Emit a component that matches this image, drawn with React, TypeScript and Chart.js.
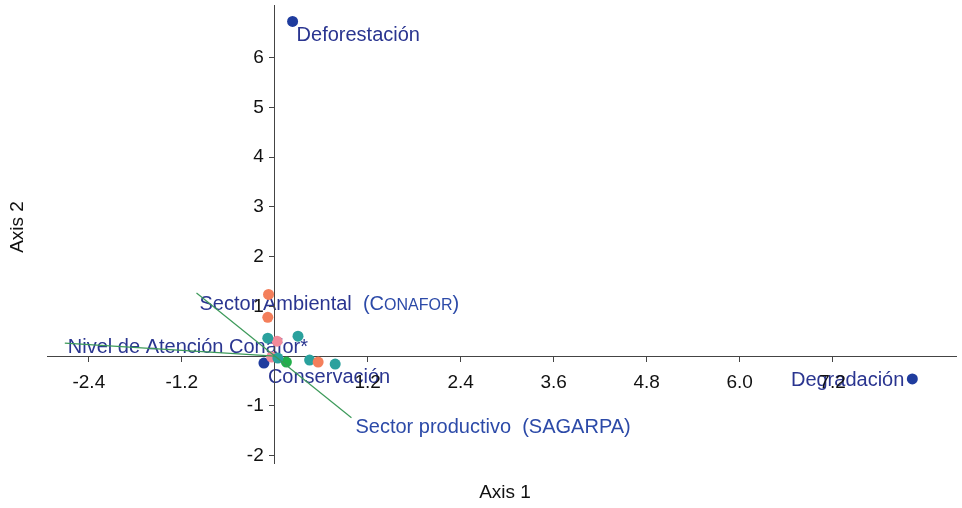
import React, { useEffect, useRef } from 'react';
import { Chart, registerables } from 'chart.js';

Chart.register(...registerables);

// Tick labels
const xTicks = [-2.4, -1.2, 1.2, 2.4, 3.6, 4.8, 6.0, 7.2];
const yTicks = [-2, -1, 1, 2, 3, 4, 5, 6];

// Labelled objects (dark blue)
const objNames = ['Deforestación', 'Degradación', 'Conservación'];
const objX = [0.23, 8.23, -0.14];
const objY = [6.73, -0.46, -0.14];

// Other point groups
const orangeX = [-0.08, -0.09, 0.56];
const orangeY = [1.24, 0.78, -0.12];
const tealX = [-0.09, 0.3, 0.45, 0.78, 0.04];
const tealY = [0.36, 0.4, -0.08, -0.16, -0.04];
const greenX = [0.15];
const greenY = [-0.12];
const pinkX = [0.03, -0.04];
const pinkY = [0.3, -0.02];

// Biplot vectors
const vecNames = ['Sector Ambiental', 'Sector productivo  (SAGARPA)', 'Nivel de Atención Conafor*'];
const vecX = [-1.01, 0.99, -2.71];
const vecY = [1.27, -1.24, 0.26];

const FONT = "'Liberation Sans', Arial, sans-serif";
const NAVY = '#2a3590';
const BLUE = '#2c4aa8';

const pts = (xs: number[], ys: number[]) => xs.map((x, i) => ({ x, y: ys[i] }));

export default function App() {
  const ref = useRef<HTMLCanvasElement>(null);

  useEffect(() => {
    if (!ref.current) return;

    const labelPlugin = {
      id: 'labels',
      beforeDraw(chart: any) {
        const ctx = chart.ctx;
        const xs = chart.scales.x;
        const ys = chart.scales.y;
        ctx.save();
        ctx.textBaseline = 'middle';
        ctx.font = `20px ${FONT}`;
        const objOff = [[4, 14, 'left'], [-8, 2, 'right'], [4, 14, 'left']];
        objNames.forEach((n, i) => {
          const px = xs.getPixelForValue(objX[i]);
          const py = ys.getPixelForValue(objY[i]);
          ctx.fillStyle = NAVY;
          ctx.textAlign = objOff[i][2];
          ctx.fillText(n, px + (objOff[i][0] as number), py + (objOff[i][1] as number));
        });
        const vecOff = [[3, 12], [4, 10], [3, 4]];
        vecNames.forEach((n, i) => {
          const px = xs.getPixelForValue(vecX[i]) + vecOff[i][0];
          const py = ys.getPixelForValue(vecY[i]) + vecOff[i][1];
          ctx.textAlign = 'left';
          ctx.font = `20px ${FONT}`;
          if (i === 0) {
            ctx.fillStyle = NAVY;
            ctx.fillText(n, px, py);
            let cx = px + ctx.measureText(n + '  ').width;
            ctx.fillStyle = BLUE;
            ctx.fillText('(C', cx, py);
            cx += ctx.measureText('(C').width;
            ctx.font = `16px ${FONT}`;
            ctx.fillText('ONAFOR', cx, py + 1);
            cx += ctx.measureText('ONAFOR').width;
            ctx.font = `20px ${FONT}`;
            ctx.fillText(')', cx, py);
          } else {
            ctx.fillStyle = i === 1 ? BLUE : NAVY;
            ctx.fillText(n, px, py);
          }
        });
        ctx.restore();
      },
      afterDraw(chart: any) {
        const ctx = chart.ctx;
        const xs = chart.scales.x;
        const ys = chart.scales.y;
        const ox = xs.getPixelForValue(0);
        const oy = ys.getPixelForValue(0);
        ctx.save();
        ctx.fillStyle = '#111';
        ctx.font = `19px ${FONT}`;
        ctx.textBaseline = 'middle';
        ctx.textAlign = 'center';
        xTicks.forEach((v) => ctx.fillText(v.toFixed(1), xs.getPixelForValue(v), oy + 27));
        ctx.textAlign = 'right';
        yTicks.forEach((v) => ctx.fillText(String(v), ox - 11, ys.getPixelForValue(v)));
        ctx.textAlign = 'center';
        ctx.fillText('Axis 1', 505, 493);
        ctx.translate(18, 227);
        ctx.rotate(-Math.PI / 2);
        ctx.fillText('Axis 2', 0, 0);
        ctx.restore();
      },
    };

    const vecLine = (i: number) => ({
      type: 'line' as const,
      data: [{ x: 0, y: 0 }, { x: vecX[i], y: vecY[i] }],
      borderColor: '#3d9a5a',
      borderWidth: 1.2,
      pointRadius: 0,
      showLine: true,
      fill: false,
    });

    const dot = (data: any[], color: string) => ({
      type: 'scatter' as const,
      data,
      backgroundColor: color,
      borderWidth: 0,
      pointRadius: 5.5,
      pointHoverRadius: 5.5,
    });

    const axisCommon = {
      type: 'linear' as const,
      grid: { drawOnChartArea: false, drawTicks: true, tickLength: 5, color: '#444' },
      border: { display: true, color: '#444', width: 1 },
      ticks: { display: false },
    };

    const chart = new Chart(ref.current, {
      type: 'scatter',
      data: {
        datasets: [
          vecLine(0),
          vecLine(1),
          vecLine(2),
          dot(pts(orangeX, orangeY), '#f47f5b'),
          dot(pts(tealX, tealY), '#2aa19d'),
          dot(pts(pinkX, pinkY), '#f28a9a'),
          dot(pts(greenX, greenY), '#22b04b'),
          dot(pts(objX, objY), '#1f3c9e'),
        ] as any,
      },
      options: {
        responsive: false,
        animation: false,
        layout: { padding: { left: 47, right: -3, top: 5, bottom: 45 } },
        plugins: { legend: { display: false }, tooltip: { enabled: false } },
        scales: {
          x: {
            ...axisCommon,
            min: -2.94,
            max: 8.8,
            position: { y: 0 } as any,
            afterBuildTicks: (s: any) => {
              s.ticks = xTicks.map((v) => ({ value: v }));
            },
          },
          y: {
            ...axisCommon,
            min: -2.15,
            max: 7.05,
            position: { x: 0 } as any,
            afterBuildTicks: (s: any) => {
              s.ticks = yTicks.map((v) => ({ value: v }));
            },
          },
        },
      },
      plugins: [labelPlugin],
    });

    return () => chart.destroy();
  }, []);

  return (
    <div style={{ position: 'fixed', left: 0, top: 0, width: 962, height: 508, background: '#fff' }}>
      <canvas ref={ref} width={962} height={508} style={{ display: 'block' }} />
    </div>
  );
}
